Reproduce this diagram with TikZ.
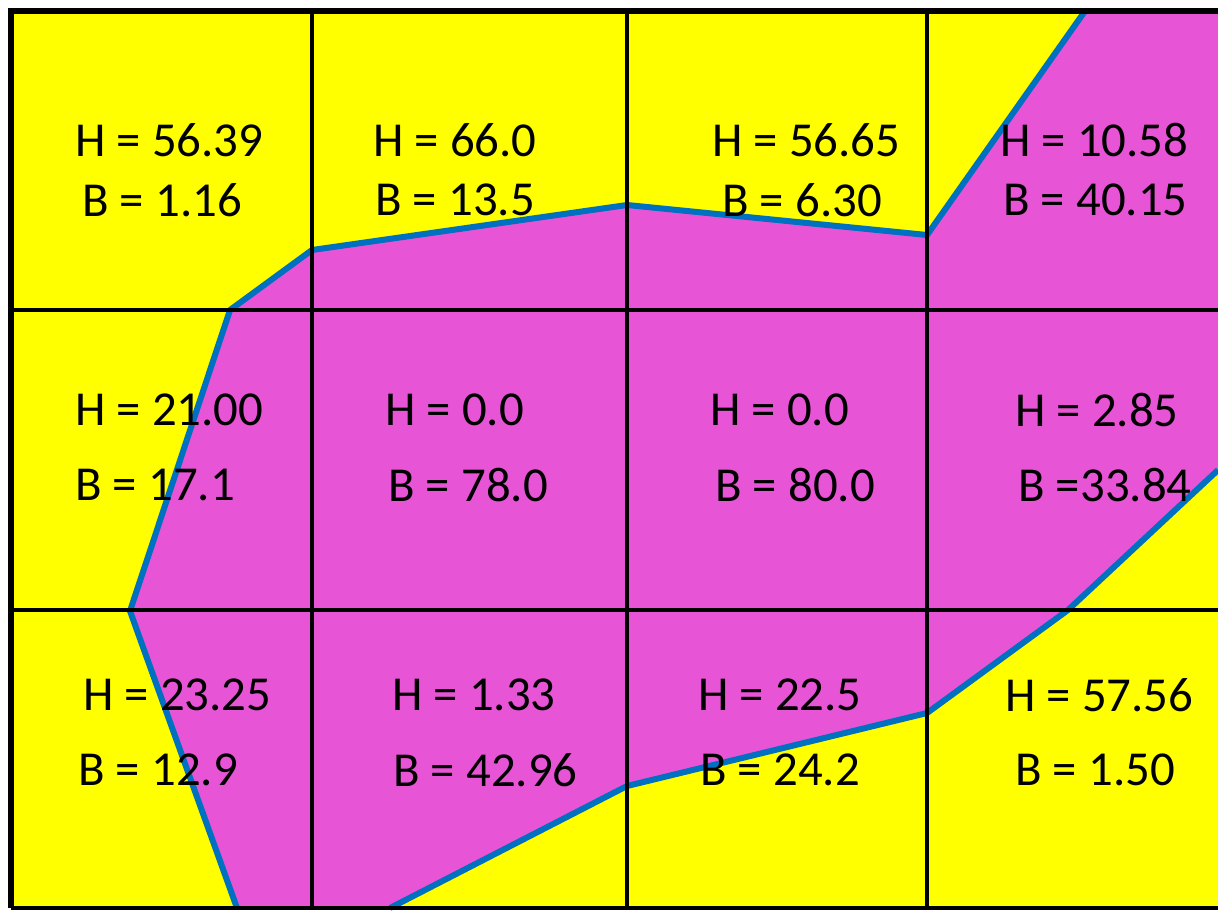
\documentclass[tikz,border=0pt]{standalone}
\usepackage{fontspec}
\setmainfont{Carlito}
\usepackage{tikz}
\usetikzlibrary{positioning}
\definecolor{zoneyellow}{RGB}{255,255,0}
\definecolor{zonepink}{RGB}{232,84,214}
\definecolor{edgeblue}{RGB}{0,112,192}

\begin{document}
\begin{tikzpicture}[
  x=0.5pt, y=-0.5pt,
  val/.style={anchor=west, inner sep=0pt, font=\fontsize{24.4}{29}\selectfont},
  gridline/.style={black, line width=1.7pt},
  border/.style={black, line width=3.2pt},
  boundary/.style={edgeblue, line width=3pt, line join=round},
]

\useasboundingbox (0,0) rectangle (1218,910);
\fill[zoneyellow] (11,11) rectangle (1218,908);

% pink zone
\fill[zonepink] (1085,11) -- (927,235) -- (627,205) -- (312,250) -- (230,310) -- (130,611)
  -- (237,908) -- (390,908) -- (627,786) -- (927,713) -- (1068,610) -- (1218,470)
  -- (1218,11) -- cycle;

\coordinate (P1) at (1085,11);
\coordinate (P2) at (927,235);
\coordinate (P3) at (627,205);
\coordinate (P4) at (312,250);
\coordinate (P5) at (230,310);
\coordinate (P6) at (130,611);
\coordinate (P7) at (237,908);
\coordinate (Q1) at (390,908);
\coordinate (Q2) at (627,786);
\coordinate (Q3) at (927,713);
\coordinate (Q4) at (1068,610);
\coordinate (Q5) at (1218,470);
\draw[boundary] (P1) -- (P2) -- (P3) -- (P4) -- (P5) -- (P6) -- (P7);
\draw[boundary] (Q1) -- (Q2) -- (Q3) -- (Q4) -- (Q5);

% grid
\draw[gridline] (312,11) -- (312,908);
\draw[gridline] (627,11) -- (627,908);
\draw[gridline] (927,11) -- (927,908);
\draw[gridline] (11,310) -- (1218,310);
\draw[gridline] (11,610) -- (1218,610);
\draw[gridline] (11,908) -- (1218,908);
\draw[border] (1218,11) -- (11,11) -- (11,908);

% row 1
\node[val] (h11) at (75,140)   {H = 56.39};
\node[val] (b11) at (82,200)   {B = 1.16};
\node[val] (h12) at (373,140)  {H = 66.0};
\node[val] (b12) at (375,200)  {B = 13.5};
\node[val] (h13) at (712,140)  {H = 56.65};
\node[val] (b13) at (722,200)  {B = 6.30};
\node[val] (h14) at (1000,140) {H = 10.58};
\node[val] (b14) at (1003,200) {B = 40.15};

% row 2
\node[val] (h21) at (75,410)   {H = 21.00};
\node[val] (b21) at (75,485)   {B = 17.1};
\node[val] (h22) at (385,410)  {H = 0.0};
\node[val] (b22) at (388,485)  {B = 78.0};
\node[val] (h23) at (710,410)  {H = 0.0};
\node[val] (b23) at (715,485)  {B = 80.0};
\node[val] (h24) at (1015,410) {H = 2.85};
\node[val] (b24) at (1018,485) {B =33.84};

% row 3
\node[val] (h31) at (83,695)   {H = 23.25};
\node[val] (b31) at (78,770)   {B = 12.9};
\node[val] (h32) at (392,695)  {H = 1.33};
\node[val] (b32) at (393,770)  {B = 42.96};
\node[val] (h33) at (698,695)  {H = 22.5};
\node[val] (b33) at (700,770)  {B = 24.2};
\node[val] (h34) at (1005,695) {H = 57.56};
\node[val] (b34) at (1015,770) {B = 1.50};

\end{tikzpicture}
\end{document}
